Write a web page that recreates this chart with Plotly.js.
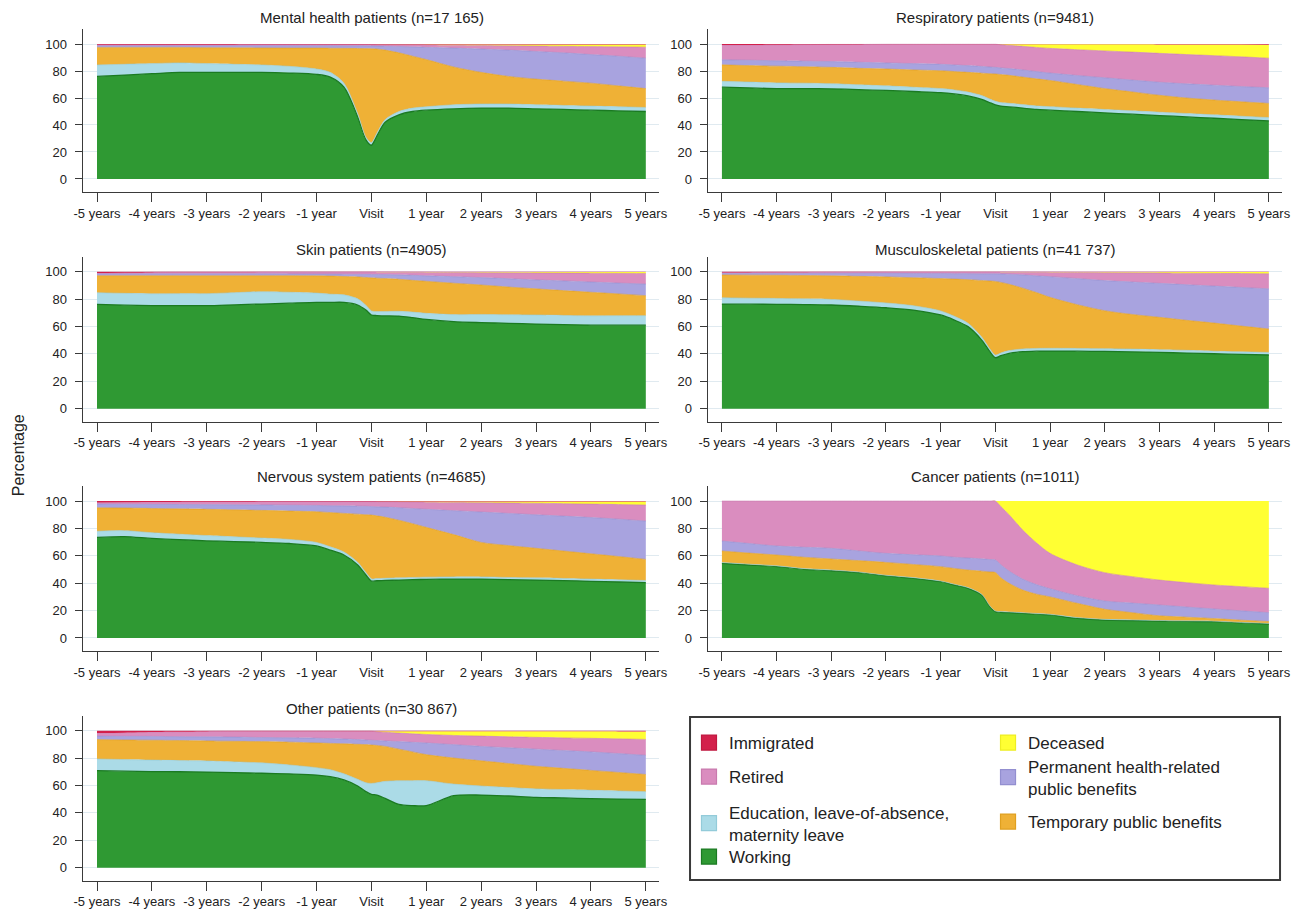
<!DOCTYPE html>
<html>
<head>
<meta charset="utf-8">
<script src="https://cdn.plot.ly/plotly-3.0.1.min.js"></script>
<style>html,body{margin:0;padding:0;background:#fff;}#chart{width:1299px;height:912px;}</style>
</head>
<body>
<div id="chart"></div>
<script>
// ---- time points (years relative to visit) ----
const years = [-5,-4.5,-4,-3.5,-3,-2.5,-2,-1.5,-1,-0.75,-0.5,-0.25,-0.1,0,0.1,0.25,0.5,0.75,1,1.5,2,2.5,3,3.5,4,4.5,5];
const xTickValues = [-5,-4,-3,-2,-1,0,1,2,3,4,5];
const xTickLabels = ['-5 years','-4 years','-3 years','-2 years','-1 year','Visit','1 year','2 years','3 years','4 years','5 years'];
const yTickValues = [0,20,40,60,80,100];

const stateNames = ['Working','Education, leave-of-absence,<br>maternity leave','Temporary public benefits','Permanent health-related<br>public benefits','Retired','Deceased','Immigrated'];

// ---- Mental health patients (n=17 165) ----
const mentalWorking    = [76,77,78,79,79,79,79,78.5,77.5,75.5,68,46,29,25,32,42,47.5,50,51,52,52.5,52.5,52,51.5,51,50.5,50];
const mentalEducation  = [8.5,8,7.5,7,6.5,6,5.5,5,4,3.5,3,2.5,2,2,2,2,2.5,2.5,2.5,3,3,3,3,3,3,3,3];
const mentalTemporary  = [13,12.5,12,11.5,11.8,12.2,12.6,13.5,15.5,17.9,25.8,48.2,65.6,69.5,62.3,51.5,43.5,38.5,35,28,23.5,20.5,19,18,17,15.5,14];
const mentalPermanent  = [1.3,1.3,1.3,1.3,1.5,1.6,1.7,1.8,1.8,1.9,1.9,2.0,2.1,2.1,2.2,2.9,4.7,6.9,9.1,14,17.3,19.5,20.5,21,21.2,22,22.5];
const mentalRetired    = [0.6,0.6,0.7,0.7,0.7,0.7,0.8,0.8,0.8,0.8,0.9,0.9,0.9,1.0,1.05,1.1,1.2,1.5,1.7,2.1,2.6,3.2,4.0,4.8,5.9,6.9,8.2];
const mentalDeceased   = [0,0,0,0,0,0,0,0,0,0,0,0,0,0,0.05,0.1,0.2,0.3,0.4,0.6,0.8,1.0,1.2,1.4,1.6,1.8,2.0];
const mentalImmigrated = [0.6,0.6,0.5,0.5,0.5,0.5,0.4,0.4,0.4,0.4,0.4,0.4,0.4,0.4,0.4,0.4,0.4,0.3,0.3,0.3,0.3,0.3,0.3,0.3,0.3,0.3,0.3];

// ---- Respiratory patients (n=9481) ----
const respWorking    = [68,67.5,67,67,66.8,66.2,65.6,64.8,64,63,61.5,59,56.5,55,54,53.5,52.5,51.5,51,50,49,48,47,46,45,44,43];
const respEducation  = [4.4,4.3,4.2,4,3.8,3.6,3.4,3.2,3,3,2.9,2.8,2.7,2.6,2.6,2.6,2.6,2.6,2.6,2.5,2.5,2.5,2.5,2.5,2.5,2.5,2.5];
const respTemporary  = [12.2,12.2,12.4,12.2,12.1,12.2,12.5,12.8,13.2,13.6,14.6,16.6,18.8,20.2,20.8,20.7,20.4,20.1,19.4,17.5,15.5,14,12.5,11.5,11,10.7,10.5];
const respPermanent  = [3.7,4.0,4.0,4.1,4.3,4.5,4.5,4.7,4.8,4.9,5.0,5.0,5.0,4.9,4.9,5.0,5.3,5.4,5.5,6.7,8.0,8.8,9.7,10.5,11.0,11.3,11.6];
const respRetired    = [10.9,11.2,11.8,12.3,12.7,13.2,13.8,14.3,14.8,15.3,15.8,16.4,16.8,17.1,17.2,17.2,17.5,17.9,18.3,19.1,19.9,20.7,21.4,21.7,21.9,22,21.9];
const respDeceased   = [0,0,0,0,0,0,0,0,0,0,0,0,0,0,0.3,0.8,1.5,2.3,3.0,4.0,4.9,5.8,6.6,7.5,8.3,9.1,10];
const respImmigrated = [0.8,0.8,0.6,0.4,0.3,0.3,0.2,0.2,0.2,0.2,0.2,0.2,0.2,0.2,0.2,0.2,0.2,0.2,0.2,0.2,0.2,0.2,0.3,0.3,0.3,0.4,0.5];

// ---- Skin patients (n=4905) ----
const skinWorking    = [76.2,75.6,75.2,75.2,75.2,75.8,76.4,77,77.6,77.6,77.6,75.7,72,68.4,68,67.8,67.6,66.5,65.2,63.5,62.8,62.3,61.8,61.4,61,61,61];
const skinEducation  = [8.5,8.6,8.7,8.8,8.8,8.9,9,8,6.8,6,5.5,4.5,3.5,3,3,3.2,3.5,4,4.4,5.2,6,6.3,6.6,6.7,6.8,6.9,6.9];
const skinTemporary  = [12.4,12.9,13.2,13.1,13.1,12.4,11.7,12.1,12.6,13.2,13.4,16,20.3,24.1,24.3,24,23.4,23.2,23.4,22.9,21.5,20.2,19.1,18.1,17.2,15.9,14.6];
const skinPermanent  = [1.4,1.4,1.4,1.4,1.4,1.4,1.4,1.3,1.3,1.5,1.7,1.9,2.3,2.5,2.7,2.9,3.2,3.7,4.0,4.8,5.4,6.1,6.5,7.1,7.5,7.9,8.5];
const skinRetired    = [0.5,0.7,1.0,1.1,1.1,1.1,1.2,1.3,1.4,1.4,1.5,1.6,1.6,1.7,1.68,1.75,1.9,2.15,2.5,3.0,3.6,4.3,5.1,5.7,6.4,7.1,7.7];
const skinDeceased   = [0,0,0,0,0,0,0,0,0,0,0,0,0,0,0.02,0.05,0.1,0.15,0.2,0.3,0.4,0.5,0.6,0.7,0.8,0.9,1.0];
const skinImmigrated = [1.0,0.8,0.5,0.4,0.4,0.4,0.3,0.3,0.3,0.3,0.3,0.3,0.3,0.3,0.3,0.3,0.3,0.3,0.3,0.3,0.3,0.3,0.3,0.3,0.3,0.3,0.3];

// ---- Musculoskeletal patients (n=41 737) ----
const muscWorking    = [76.4,76.3,76.2,76,75.7,74.8,73.7,72,68.4,64.7,59.9,50.1,41.6,37.2,38.7,40.4,41.6,42,42.1,42,41.8,41.5,41.1,40.6,40.1,39.6,39.2];
const muscEducation  = [4.6,4.4,4.3,4.2,4.1,3.8,3.5,3.2,3,2.8,2.5,2.2,2,2,2,2,2,2,2,2,2,2,2,2,1.9,1.9,1.9];
const muscTemporary  = [16.6,16.8,16.9,17,17.2,18,19,20.4,23.6,27.1,31.8,41.3,49.6,53.7,51.5,48.4,44.4,40.8,37.2,31.9,27.7,25.3,23.6,21.9,20.5,18.8,17.1];
const muscPermanent  = [1.2,1.3,1.4,1.6,1.8,2.2,2.6,3.1,3.7,4.0,4.4,4.9,5.3,5.6,6.2,7.4,9.7,12.2,15.1,19.1,22,23.7,24.8,26,27,28.2,29.3];
const muscRetired    = [0.7,0.7,0.8,0.8,0.9,0.9,0.9,1.0,1.0,1.1,1.1,1.2,1.2,1.2,1.28,1.45,1.9,2.55,3.1,4.4,5.8,6.7,7.6,8.4,9.3,10.2,11.0];
const muscDeceased   = [0,0,0,0,0,0,0,0,0,0,0,0,0,0,0.02,0.05,0.1,0.15,0.2,0.3,0.4,0.5,0.6,0.8,0.9,1.0,1.2];
const muscImmigrated = [0.5,0.5,0.4,0.4,0.3,0.3,0.3,0.3,0.3,0.3,0.3,0.3,0.3,0.3,0.3,0.3,0.3,0.3,0.3,0.3,0.3,0.3,0.3,0.3,0.3,0.3,0.3];

// ---- Nervous system patients (n=4685) ----
const nervWorking    = [73.5,74,72.7,71.8,71,70.4,69.8,69,67.2,64.2,60.6,53.3,46,41.6,41.8,42,42.3,42.6,42.8,43,43,42.6,42.3,41.9,41.4,40.9,40.4];
const nervEducation  = [4.5,4.4,4.2,4,3.8,3.5,3.2,3,2.6,2.4,2.2,2,1.8,1.6,1.6,1.6,1.6,1.6,1.6,1.6,1.6,1.6,1.6,1.6,1.6,1.6,1.6];
const nervTemporary  = [17.1,16.5,17.7,18.5,19.2,19.7,20.2,20.7,22.4,25,28.2,35.1,42.2,46.6,45.8,44.6,42.1,39.3,36.4,30.9,25.2,23.3,21.6,20,18.5,17,15.4];
const nervPermanent  = [2.7,2.8,3.0,3.2,3.4,3.7,4.0,4.3,4.6,5.0,5.5,5.9,6.2,6.2,6.6,7.4,9.2,11.1,13.2,17.5,22.2,23.5,24.5,25.5,26.5,27.3,28];
const nervRetired    = [1.2,1.4,1.7,1.9,2.1,2.2,2.4,2.6,2.8,3.0,3.1,3.3,3.4,3.6,3.75,3.9,4.2,4.7,5.2,6.0,6.8,7.6,8.4,9.1,9.8,10.7,11.7];
const nervDeceased   = [0,0,0,0,0,0,0,0,0,0,0,0,0,0,0.05,0.1,0.2,0.3,0.4,0.6,0.8,1.0,1.2,1.5,1.8,2.1,2.5];
const nervImmigrated = [1.0,0.9,0.7,0.6,0.5,0.5,0.4,0.4,0.4,0.4,0.4,0.4,0.4,0.4,0.4,0.4,0.4,0.4,0.4,0.4,0.4,0.4,0.4,0.4,0.4,0.4,0.4];

// ---- Cancer patients (n=1011) ----
const cancWorking    = [54.5,53.3,52.1,50.1,49.1,47.7,45.3,43.6,41.1,38.7,36.3,31.4,22.9,19.2,18.8,18.5,18,17.4,16.8,14.4,13.1,12.7,12.4,12.1,11.9,11,10.2];
const cancEducation  = [0.6,0.6,0.6,0.6,0.5,0.5,0.5,0.5,0.5,0.5,0.5,0.5,0.5,0.5,0.5,0.5,0.5,0.5,0.5,0.5,0.5,0.5,0.4,0.4,0.4,0.4,0.4];
const cancTemporary  = [8.4,8.1,7.9,8.3,8.1,8.3,9.4,9.6,10.5,11.6,12.8,16.9,24.8,28.2,24.7,20.9,16.5,14.1,12.7,10.4,7.4,5.3,3.4,2.7,1.9,1.6,1.4];
const cancPermanent  = [7.3,7,6.6,7.3,7.8,7.1,6.6,7.1,7.8,8.2,8.8,9,9.1,9.1,9.5,9,8,7,6,5.5,6,7,7.9,7.4,7,6.8,6.5];
const cancRetired    = [29.2,31,32.8,33.7,34.5,36.4,38.2,39.2,40.1,41,41.6,42.2,42.7,43,42.5,41.1,35.8,30.5,25.8,22.5,20.7,19.3,18.2,17.8,17.5,17.7,17.8];
const cancDeceased   = [0,0,0,0,0,0,0,0,0,0,0,0,0,0,4,10,21.2,30.5,38.2,46.7,52.3,55.2,57.7,59.6,61.3,62.5,63.7];
const cancImmigrated = [0,0,0,0,0,0,0,0,0,0,0,0,0,0,0,0,0,0,0,0,0,0,0,0,0,0,0];

// ---- Other patients (n=30 867) ----
const otherWorking    = [70.8,70.4,70.1,70,69.8,69.3,68.9,68.4,67.6,66.4,64,59.6,55.5,53.5,53,50.6,46.2,45.3,45.3,52.5,53,52.3,51.3,50.9,50.4,50.1,49.9];
const otherEducation  = [8.5,8.5,8.4,8.2,8.1,7.9,7.6,6.6,5.4,5.1,4.5,4.9,6.5,8,9,12.4,17.3,18.2,18.2,8.5,6.6,6.2,6.2,6.1,6.1,5.9,5.6];
const otherTemporary  = [14.2,14.3,14.5,14.6,14.6,15,15.5,16.6,18,19.2,21.9,25.5,27.8,28,27.2,25.5,23,21,19,19,18.4,17.5,16.5,15.5,14.5,13.5,12.5];
const otherPermanent  = [2.5,2.7,2.8,2.8,3.0,3.1,3.0,3.2,3.5,3.5,3.5,3.5,3.4,3.5,3.6,4.0,5.5,7,8.5,9.8,10.5,11.5,12.5,13,13.5,13.8,14];
const otherRetired    = [2.2,2.6,3.2,3.6,3.9,4.2,4.5,4.7,5.0,5.3,5.6,6.0,6.3,6.5,6.4,6.3,6.2,6.2,6.2,6.7,7.5,8,8.6,9.2,9.9,10.7,11.6];
const otherDeceased   = [0,0,0,0,0,0,0,0,0,0,0,0,0,0,0.3,0.7,1.3,1.8,2.3,3.0,3.5,4.0,4.4,4.8,5.1,5.4,5.7];
const otherImmigrated = [1.8,1.5,1.0,0.8,0.6,0.5,0.5,0.5,0.5,0.5,0.5,0.5,0.5,0.5,0.5,0.5,0.5,0.5,0.5,0.5,0.5,0.5,0.5,0.5,0.5,0.6,0.7];

// ---- panels ----
const panelTitles = ['Mental health patients (n=17 165)','Respiratory patients (n=9481)','Skin patients (n=4905)','Musculoskeletal patients (n=41 737)','Nervous system patients (n=4685)','Cancer patients (n=1011)','Other patients (n=30 867)'];
const panelSeries = [
  [mentalWorking,mentalEducation,mentalTemporary,mentalPermanent,mentalRetired,mentalDeceased,mentalImmigrated],
  [respWorking,respEducation,respTemporary,respPermanent,respRetired,respDeceased,respImmigrated],
  [skinWorking,skinEducation,skinTemporary,skinPermanent,skinRetired,skinDeceased,skinImmigrated],
  [muscWorking,muscEducation,muscTemporary,muscPermanent,muscRetired,muscDeceased,muscImmigrated],
  [nervWorking,nervEducation,nervTemporary,nervPermanent,nervRetired,nervDeceased,nervImmigrated],
  [cancWorking,cancEducation,cancTemporary,cancPermanent,cancRetired,cancDeceased,cancImmigrated],
  [otherWorking,otherEducation,otherTemporary,otherPermanent,otherRetired,otherDeceased,otherImmigrated]
];

// ---- styling ----
const fillColors = ['#2f9933','#abdbe7','#efb136','#a8a3df','#da8dbf','#ffff33','#d3204b'];
const edgeColors = ['#1b7a22','#93cbd9','#e0a020','#938fd0','#c97aae','#eeee22','#c01840'];
const edgeWidths = [1.3,0.6,0.6,0.6,0.6,0,0];

const FONT = 'Liberation Sans, Arial, sans-serif';
const colX = [[0.0637,0.5073],[0.5448,0.9869]];
const rowY = [[0.7897,0.9680],[0.5376,0.7186],[0.2862,0.4671],[0.0343,0.2154]];
const titleY = [0.9803,0.7259,0.4770,0.2233];
const titleX = [0.286,0.7663];

// one legend box per state, laid out like the two-column key of the original
const legendIds  = ['legend4','legend3','legend7','legend6','legend2','legend5','legend'];
const legendX    = [0.5304,0.5304,0.7606,0.7606,0.5304,0.7606,0.5304];
const legendY    = [1-857/912, 1-823.5/912, 1-822/912, 1-777.5/912, 1-777/912, 1-743/912, 1-743/912];

const traces = [];
const layout = {
  width:1299, height:912,
  margin:{l:0,r:0,t:0,b:0},
  paper_bgcolor:'#ffffff', plot_bgcolor:'#ffffff',
  font:{family:FONT, color:'#222'},
  showlegend:true,
  annotations:[], shapes:[]
};

panelSeries.forEach((series, p) => {
  const k = p + 1;
  const xa = 'x' + (k === 1 ? '' : k), ya = 'y' + (k === 1 ? '' : k);
  const col = p % 2, row = Math.floor(p / 2);
  series.forEach((vals, s) => {
    traces.push({
      type:'scatter', mode:'lines', x:years, y:vals,
      xaxis:xa, yaxis:ya, stackgroup:'panel'+k,
      name:stateNames[s], legendgroup:'state'+s, showlegend:false,
      fillcolor:fillColors[s],
      line:{color:edgeColors[s], width:edgeWidths[s], shape:'spline', smoothing:0.8},
      hovertemplate:'%{y:.1f}%<extra>'+stateNames[s].replace('<br>',' ')+'</extra>'
    });
  });
  layout['xaxis' + (k === 1 ? '' : k)] = {
    domain:colX[col], anchor:ya, range:[-5.26,5.24],
    tickmode:'array', tickvals:xTickValues, ticktext:xTickLabels,
    showline:true, linecolor:'#3a3a3a', linewidth:1.3,
    ticks:'outside', ticklen:9, tickwidth:1.3, tickcolor:'#3a3a3a',
    showgrid:false, zeroline:false, fixedrange:true,
    tickfont:{family:FONT, size:13, color:'#222'}
  };
  layout['yaxis' + (k === 1 ? '' : k)] = {
    domain:rowY[row], anchor:xa, range:[-9.5,111],
    tickmode:'array', tickvals:yTickValues,
    showline:true, linecolor:'#3a3a3a', linewidth:1.3,
    ticks:'outside', ticklen:7, tickwidth:1.3, tickcolor:'#3a3a3a',
    showgrid:true, gridcolor:'#e0eaf0', gridwidth:1,
    zeroline:false, fixedrange:true, ticklabelstandoff:5,
    tickfont:{family:FONT, size:13, color:'#222'}
  };
  layout.annotations.push({
    text:panelTitles[p], xref:'paper', yref:'paper', x:titleX[col], y:titleY[row],
    xanchor:'center', yanchor:'middle', showarrow:false,
    font:{family:FONT, size:15, color:'#222'}
  });
});

// legend entries (square swatches), one per state
stateNames.forEach((nm, s) => {
  traces.push({
    type:'scatter', mode:'markers', x:[null], y:[null], xaxis:'x', yaxis:'y',
    name:nm, legendgroup:'state'+s, legend:legendIds[s], showlegend:true,
    marker:{symbol:'square', size:15, color:fillColors[s], line:{color:edgeColors[s], width:1.2}},
    hoverinfo:'skip'
  });
  layout[legendIds[s]] = {
    x:legendX[s], y:legendY[s], xanchor:'left', yanchor:'middle',
    bgcolor:'rgba(0,0,0,0)', borderwidth:0,
    font:{family:FONT, size:17, color:'#222'}
  };
});

// legend frame
layout.shapes.push({
  type:'rect', xref:'paper', yref:'paper', x0:0.5312, x1:0.9854, y0:0.0351, y1:0.2138,
  line:{color:'#3a3a3a', width:2}, fillcolor:'rgba(0,0,0,0)', layer:'below'
});

// y-axis label
layout.annotations.push({
  text:'Percentage', xref:'paper', yref:'paper', x:0.0139, y:0.501,
  xanchor:'center', yanchor:'middle', textangle:-90, showarrow:false,
  font:{family:FONT, size:16, color:'#222'}
});

Plotly.newPlot('chart', traces, layout, {displayModeBar:false});
</script>
</body>
</html>
